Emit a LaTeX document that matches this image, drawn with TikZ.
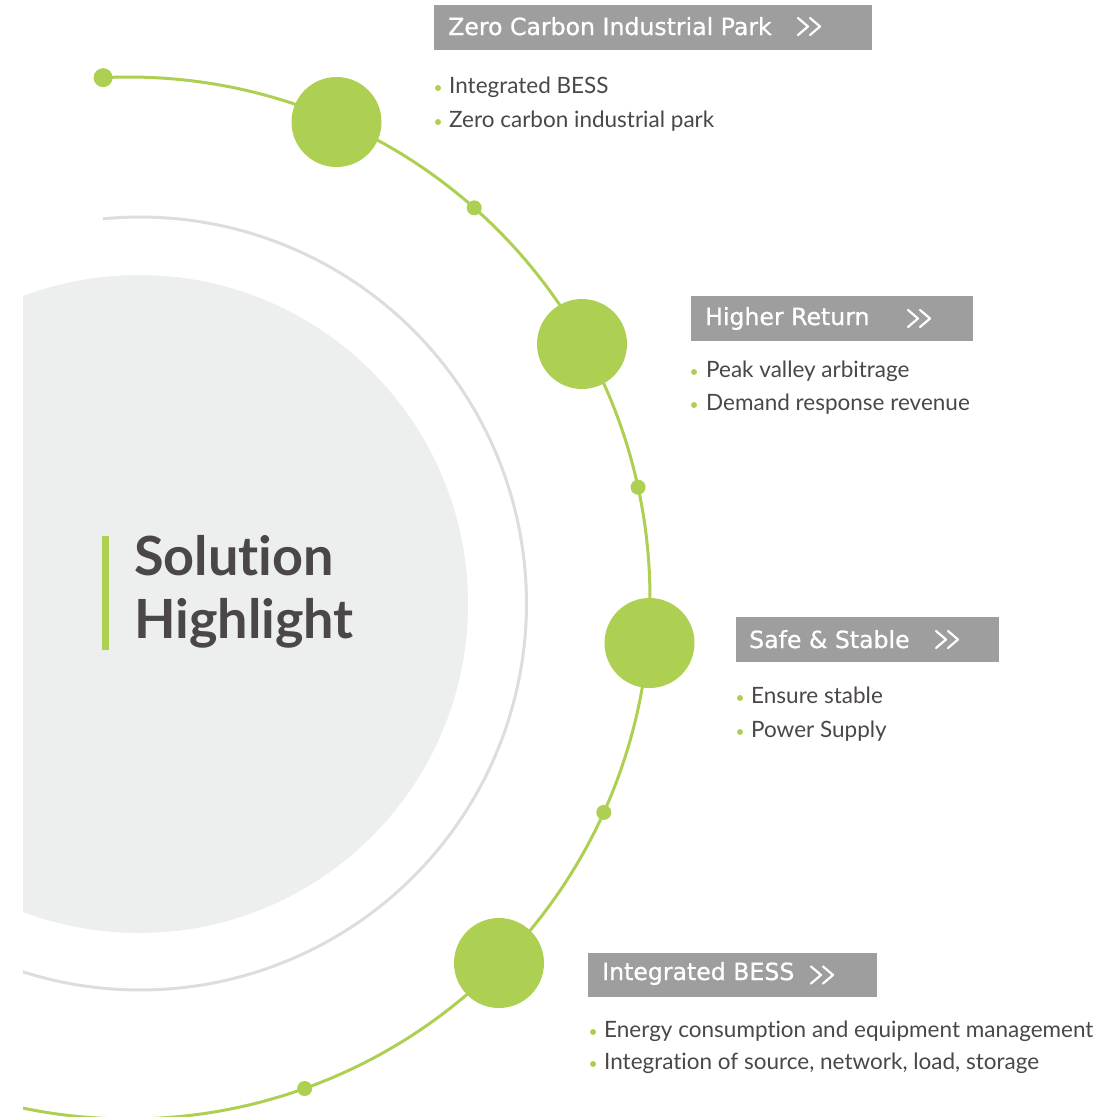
\documentclass[tikz,border=0pt]{standalone}
\usepackage{fontspec}
\setmainfont{Lato}[Ligatures=NoCommon]
\newfontfamily\boxfont{DejaVu Sans}[FakeBold=0.8]
\definecolor{lgreen}{HTML}{ADCF52}
\definecolor{fillgray}{HTML}{EDEEEE}
\definecolor{ringgray}{HTML}{DDDDDD}
\definecolor{boxgray}{HTML}{9E9E9E}
\definecolor{txtgray}{HTML}{4B4747}
\tikzset{
  bigdot/.style={circle, fill=lgreen, inner sep=0pt, minimum size=90pt},
  smalldot/.style={circle, fill=lgreen, inner sep=0pt, minimum size=15pt},
  enddot/.style={circle, fill=lgreen, inner sep=0pt, minimum size=19pt},
  bul/.style={circle, fill=lgreen, inner sep=0pt, minimum size=6pt},
  hbox/.style={fill=boxgray, inner sep=0pt, anchor=north west},
  htext/.style={anchor=base west, inner sep=0pt, text=white, font=\boxfont\fontsize{23.6}{23.6}\selectfont},
  btext/.style={anchor=base west, inner sep=0pt, text=txtgray, font=\fontsize{22.5}{22.5}\selectfont},
  ttext/.style={anchor=base west, inner sep=0pt, text=txtgray, font=\fontsize{54}{54}\selectfont\bfseries},
  chev/.style={draw=white, line width=2.2pt, line cap=round, line join=round},
}
\newcommand{\chevrons}[2]{%
  \draw[chev] (#1,#2-8.5) -- ++(10,8.5) -- ++(-10,8.5);
  \draw[chev] (#1+12,#2-8.5) -- ++(10,8.5) -- ++(-10,8.5);}
\begin{document}
\begin{tikzpicture}[x=1pt,y=-1pt]
\useasboundingbox (0,0) rectangle (1113,1117);
\begin{scope}
  \clip (23,0) rectangle (1113,1117);
  \fill[fillgray] (139,604) circle[radius=329];
  \draw[ringgray, line width=3pt] plot[domain=-95.5:112, samples=160]
     ({140+386.5*cos(\x)},{603.5+386.5*sin(\x)});
  \draw[lgreen, line width=3pt] plot[domain=-92.85:104, samples=240]
     ({129+521*cos(\x)},{598+521*sin(\x)});
\end{scope}
% dots on the arc
\node[enddot] (d0) at ({129+521*cos(-92.85)},{598+521*sin(-92.85)}) {};
\node[smalldot] (d1) at ({129+521*cos(-48.5)},{598+521*sin(-48.5)}) {};
\node[smalldot] (d2) at ({129+521*cos(-12.28)},{598+521*sin(-12.28)}) {};
\node[smalldot] (d3) at ({129+521*cos(24.3)},{598+521*sin(24.3)}) {};
\node[smalldot] (d4) at ({129+521*cos(70.3)},{598+521*sin(70.3)}) {};
\node[bigdot] (c1) at (336.5,122) {};
\node[bigdot] (c2) at (582,344) {};
\node[bigdot] (c3) at (649.5,643) {};
\node[bigdot] (c4) at (499,963) {};
% title
\fill[lgreen] (102,536) rectangle (109,650);
\node[ttext] (t1) at (134,575) {Solution};
\node[ttext] (t2) at (134,638) {Highlight};
% box 1
\node[hbox, minimum width=438pt, minimum height=45pt] (b1) at (434,5) {};
\node[htext] (h1) at (448,35) {Zero Carbon Industrial Park};
\chevrons{798}{26.5}
\node[bul] (p11) at (438,88) {};
\node[btext] (l11) at (449,93) {Integrated BESS};
\node[bul] (p12) at (438,122) {};
\node[btext] (l12) at (449,127) {Zero carbon industrial park};
% box 2
\node[hbox, minimum width=282pt, minimum height=45pt] (b2) at (691,296) {};
\node[htext] (h2) at (705,325) {Higher Return};
\chevrons{908}{318.5}
\node[bul] (p21) at (694,372) {};
\node[btext] (l21) at (706,377) {Peak valley arbitrage};
\node[bul] (p22) at (694,405) {};
\node[btext] (l22) at (706,410) {Demand response revenue};
% box 3
\node[hbox, minimum width=263pt, minimum height=45pt] (b3) at (736,617) {};
\node[htext] (h3) at (749,648) {Safe \& Stable};
\chevrons{936}{639.5}
\node[bul] (p31) at (740,698) {};
\node[btext] (l31) at (751,703) {Ensure stable};
\node[bul] (p32) at (740,732) {};
\node[btext] (l32) at (751,737) {Power Supply};
% box 4
\node[hbox, minimum width=289pt, minimum height=44pt] (b4) at (588,953) {};
\node[htext] (h4) at (602,980) {Integrated BESS};
\chevrons{811}{975}
\node[bul] (p41) at (593,1032) {};
\node[btext] (l41) at (604,1037) {Energy consumption and equipment management};
\node[bul] (p42) at (593,1064) {};
\node[btext] (l42) at (604,1069) {Integration of source, network, load, storage};
\end{tikzpicture}
\end{document}
